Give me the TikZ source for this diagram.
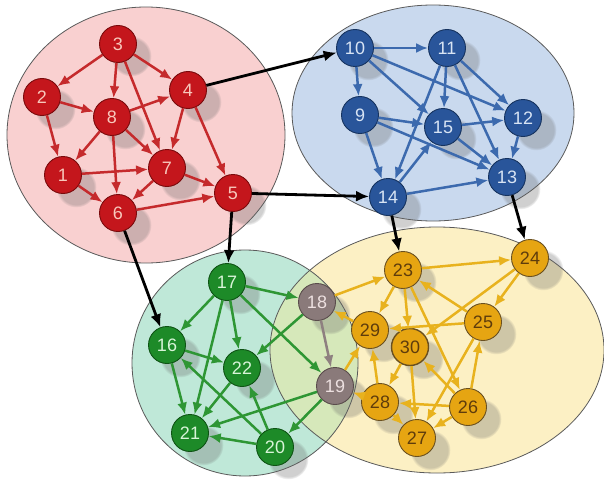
\documentclass[tikz,border=0pt]{standalone}
\usepackage{fontspec}
\setmainfont{Liberation Sans}
\usetikzlibrary{arrows.meta,shadows}
\definecolor{redN}{HTML}{C4161C}
\definecolor{redD}{HTML}{7A0A0C}
\definecolor{redE}{HTML}{C52A2C}
\definecolor{redT}{HTML}{F8C8BC}
\definecolor{redBg}{HTML}{F9D0D0}
\definecolor{bluN}{HTML}{29559A}
\definecolor{bluD}{HTML}{16335F}
\definecolor{bluE}{HTML}{3C6AAE}
\definecolor{bluT}{HTML}{D8E4F4}
\definecolor{bluBg}{HTML}{C9D9EE}
\definecolor{grnN}{HTML}{1D8A28}
\definecolor{grnD}{HTML}{0E5314}
\definecolor{grnE}{HTML}{2E9634}
\definecolor{grnT}{HTML}{D8F4D8}
\definecolor{grnBg}{HTML}{BFE8D8}
\definecolor{gryN}{HTML}{8A7A7A}
\definecolor{gryD}{HTML}{5A4C4C}
\definecolor{gryE}{HTML}{8E8080}
\definecolor{gryT}{HTML}{EDE0E0}
\definecolor{yelN}{HTML}{E6A512}
\definecolor{yelD}{HTML}{6A5020}
\definecolor{yelE}{HTML}{E8B21E}
\definecolor{yelT}{HTML}{5E3C0C}
\definecolor{yelBg}{HTML}{FCF0C4}
\definecolor{ovlBg}{HTML}{D6E8BA}
\definecolor{rimC}{HTML}{5A5A5A}
\tikzset{
  nd/.style={circle, minimum size=37pt, inner sep=0pt, line width=0.9pt,
    font=\fontsize{18}{18}\selectfont,
    circular drop shadow={shadow xshift=12pt, shadow yshift=-11pt, opacity=0.3, fill=black!60}},
  rn/.style={nd, fill=redN, draw=redD, text=redT},
  bn/.style={nd, fill=bluN, draw=bluD, text=bluT},
  gn/.style={nd, fill=grnN, draw=grnD, text=grnT},
  xn/.style={nd, fill=gryN, draw=gryD, text=gryT},
  yn/.style={nd, fill=yelN, draw=yelD, text=yelT},
  ar/.style={line width=2.5pt, -{Latex[length=12pt,width=10pt]}},
  re/.style={ar, draw=redE},
  be/.style={ar, draw=bluE},
  ge/.style={ar, draw=grnE},
  xe/.style={ar, draw=gryE},
  ye/.style={ar, draw=yelE},
  ke/.style={line width=2.8pt, draw=black, -{Latex[length=13pt,width=11pt]}},
  rim/.style={draw=rimC, line width=0.8pt}
}
\begin{document}
\begin{tikzpicture}[x=1pt,y=-1pt]
\useasboundingbox (0,0) rectangle (604,484);
\fill[white] (0,0) rectangle (604,484);
% backgrounds
\fill[redBg] (146,135) ellipse [x radius=139, y radius=128];
\draw[rim] (146,135) ellipse [x radius=139, y radius=128];
\fill[bluBg] (433,113) ellipse [x radius=141, y radius=108];
\draw[rim] (433,113) ellipse [x radius=141, y radius=108];
\fill[yelBg] (437,350) ellipse [x radius=167, y radius=123];
\fill[grnBg] (245,363) circle [radius=113];
\begin{scope}
  \clip (245,363) circle [radius=113];
  \fill[ovlBg] (437,350) ellipse [x radius=167, y radius=123];
\end{scope}
\draw[rim] (437,350) ellipse [x radius=167, y radius=123];
\draw[rim] (245,363) circle [radius=113];
% red nodes
\node[rn] (n3) at (118,44) {3};
\node[rn] (n2) at (42,97) {2};
\node[rn] (n8) at (112,117) {8};
\node[rn] (n4) at (188,90) {4};
\node[rn] (n1) at (63,175) {1};
\node[rn] (n7) at (167,168) {7};
\node[rn] (n6) at (118,213) {6};
\node[rn] (n5) at (233,193) {5};
% blue nodes
\node[bn] (n10) at (355,48) {10};
\node[bn] (n11) at (447,48) {11};
\node[bn] (n9) at (360,115) {9};
\node[bn] (n15) at (443,127) {15};
\node[bn] (n12) at (523,118) {12};
\node[bn] (n13) at (507,177) {13};
\node[bn] (n14) at (388,197) {14};
% green nodes
\node[gn] (n17) at (227,282) {17};
\node[gn] (n16) at (167,345) {16};
\node[gn] (n22) at (242,368) {22};
\node[gn] (n21) at (190,433) {21};
\node[gn] (n20) at (275,447) {20};
\node[xn] (n18) at (317,302) {18};
\node[xn] (n19) at (335,386) {19};
% yellow nodes
\node[yn] (n23) at (403,270) {23};
\node[yn] (n24) at (530,258) {24};
\node[yn] (n29) at (370,330) {29};
\node[yn, line width=1.4pt] (n30) at (410,347) {30};
\node[yn] (n25) at (483,322) {25};
\node[yn] (n28) at (380,402) {28};
\node[yn] (n26) at (468,407) {26};
\node[yn] (n27) at (417,438) {27};
% red edges
\foreach \a/\b in {3/2,3/8,3/7,3/4,2/8,2/1,8/4,8/1,8/6,8/7,4/7,4/5,1/7,1/6,7/6,7/5,6/5}
  \draw[re] (n\a) -- (n\b);
% blue edges
\foreach \a/\b in {10/11,10/9,10/15,10/12,11/15,11/12,11/13,11/14,9/14,9/15,9/13,15/12,15/13,12/13,14/15,14/13}
  \draw[be] (n\a) -- (n\b);
% green edges
\foreach \a/\b in {17/16,17/22,17/21,17/18,17/19,16/22,16/21,22/21,20/21,20/22,20/16,19/21,19/20,18/22}
  \draw[ge] (n\a) -- (n\b);
\draw[xe] (n18) -- (n19);
% yellow edges
\foreach \a/\b in {18/23,23/24,23/29,23/30,23/26,24/25,24/30,25/23,25/29,25/27,26/25,26/30,26/27,26/28,29/18,19/29,28/19,28/29,30/28,30/27,28/27}
  \draw[ye] (n\a) -- (n\b);
% black inter-cluster edges
\foreach \a/\b in {4/10,5/14,5/17,6/16,14/23,13/24}
  \draw[ke] (n\a) -- (n\b);
\end{tikzpicture}
\end{document}
